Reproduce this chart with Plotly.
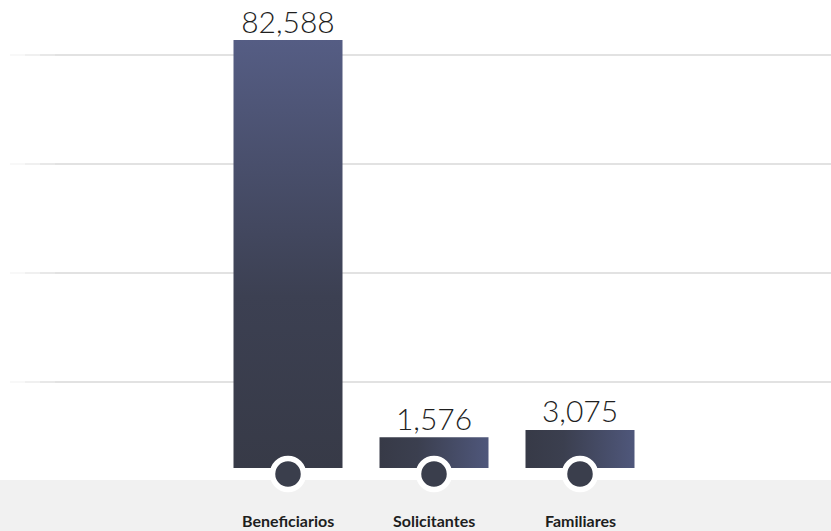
import plotly.graph_objects as go

# ---------------- data ----------------
categories = ["Beneficiarios", "Solicitantes", "Familiares"]
values = [82588, 1576, 3075]
value_labels = ["82,588", "1,576", "3,075"]

# ---------------- layout constants ----------------
W, H = 831, 531
BASE_PX = 468          # pixel row of the bar floor
TOP_PX = 40            # pixel row reached by the tallest bar
FLOOR = 4700           # visual floor offset: bars start below zero
k = (BASE_PX - TOP_PX) / (max(values) + FLOOR)   # px per unit
y_max = BASE_PX / k - FLOOR
y_min = (BASE_PX - H) / k - FLOOR
base = -FLOOR

X0_PX, UNIT_PX = 288, 146          # x pixel of first category, px per category
x_min = -X0_PX / UNIT_PX
x_max = (W - X0_PX) / UNIT_PX
half_w = 109 / 2 / UNIT_PX

grad_types = ["vertical", "horizontal", "horizontal"]
dark, blue = "#373a47", "#555d84"

fig = go.Figure()

# bars (gradient-filled rectangles drawn on the data axes)
for i, (cat, v) in enumerate(zip(categories, values)):
    xs = [i - half_w, i - half_w, i + half_w, i + half_w, i - half_w]
    ys = [base, v, v, base, base]
    if grad_types[i] == "vertical":
        cs = [[0, dark], [0.4, "#3c4052"], [1, blue]]
    else:
        cs = [[0, dark], [0.35, "#3b3f4f"], [1, "#4f577b"]]
    fig.add_trace(go.Scatter(
        x=xs, y=ys, mode="lines", fill="toself",
        line=dict(width=0, color=dark),
        fillgradient=dict(type=grad_types[i], colorscale=cs),
        hoverinfo="skip", showlegend=False, name=cat,
    ))

# value labels
fig.add_trace(go.Scatter(
    x=list(range(len(categories))), y=values, mode="text",
    text=value_labels, textposition="top center",
    textfont=dict(family="Lato, Open Sans, sans-serif", size=30, color="#1f1f1f", weight=300),
    cliponaxis=False, showlegend=False, hoverinfo="skip",
))

# circles at bar foot
fig.add_trace(go.Scatter(
    x=list(range(len(categories))), y=[base - 6 / k] * len(categories),
    mode="markers",
    marker=dict(size=31, color="#3a3e4c", line=dict(color="white", width=5.5)),
    cliponaxis=False, showlegend=False, hoverinfo="skip",
))

shapes = []
# gray band
shapes.append(dict(type="rect", xref="paper", yref="paper",
                   x0=0, x1=1, y0=0, y1=1 - 480 / H,
                   fillcolor="#f1f1f1", line=dict(width=0), layer="below"))
# gridlines with faded left end
for p in [55, 164, 273, 382]:
    yp = 1 - p / H
    for (a, b, op) in [(10, 25, 0.25), (25, 40, 0.5), (40, 55, 0.8), (55, W, 1.0)]:
        shapes.append(dict(type="line", xref="paper", yref="paper",
                           x0=a / W, x1=b / W, y0=yp, y1=yp,
                           line=dict(color=f"rgba(226,226,226,{op})", width=2),
                           layer="below"))

annotations = []
for i, cat in enumerate(categories):
    annotations.append(dict(
        x=i, xref="x", y=1 - 520 / H, yref="paper", text=cat, showarrow=False,
        font=dict(family="Lato, Open Sans, sans-serif", size=16, color="#1e1e1e", weight="bold"),
        xanchor="center", yanchor="middle",
    ))

fig.update_layout(
    width=W, height=H,
    margin=dict(l=0, r=0, t=0, b=0),
    paper_bgcolor="white", plot_bgcolor="rgba(0,0,0,0)",
    xaxis=dict(range=[x_min, x_max], visible=False, fixedrange=True),
    yaxis=dict(range=[y_min, y_max], visible=False, fixedrange=True),
    shapes=shapes, annotations=annotations, showlegend=False,
)

fig.write_html(
    "out.html",
    config={"displayModeBar": False},
    post_script="document.body.style.margin='0';document.body.style.overflow='hidden';",
)
